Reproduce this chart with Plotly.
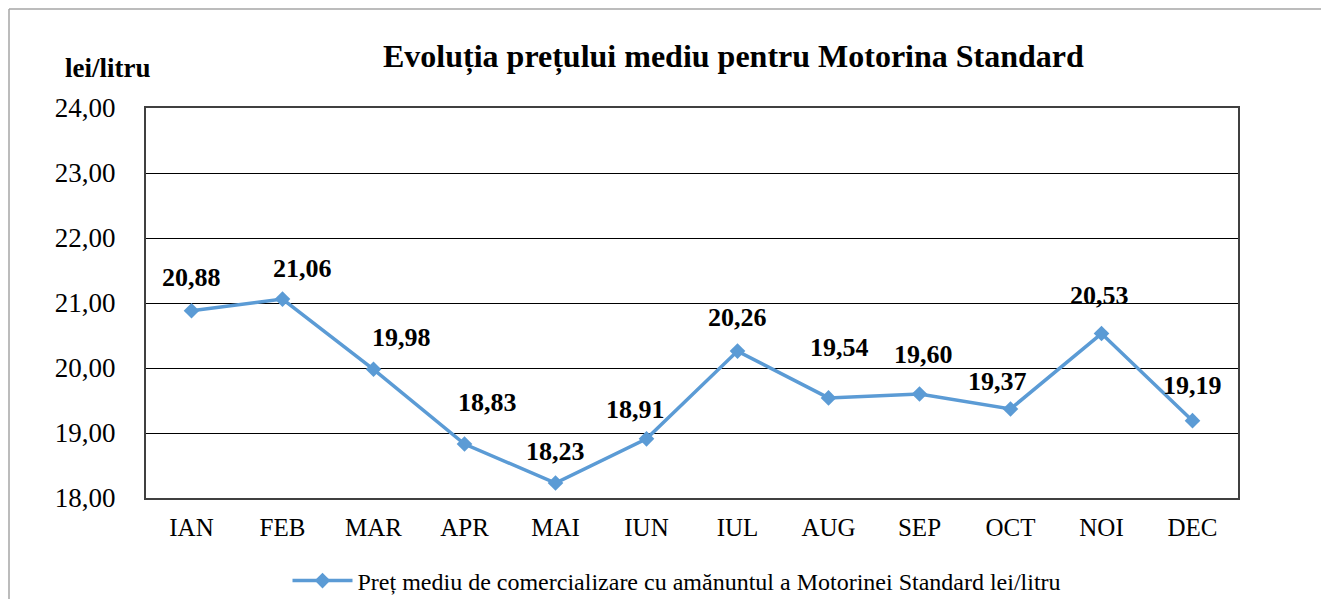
import plotly.graph_objects as go

months = ["IAN", "FEB", "MAR", "APR", "MAI", "IUN", "IUL", "AUG", "SEP", "OCT", "NOI", "DEC"]
prices = [20.88, 21.06, 19.98, 18.83, 18.23, 18.91, 20.26, 19.54, 19.60, 19.37, 20.53, 19.19]
series_name = "Preț mediu de comercializare cu amănuntul a Motorinei Standard lei/litru"
title_text = "Evoluția prețului mediu pentru Motorina Standard"
unit_text = "lei/litru"

FONT = "Liberation Serif"
LINE_COLOR = "#5B9BD5"

# label offsets in px (style only)
label_dx = [0, 20, 28, 23, 0, -11, 0, 11, 4, -13, -2, 0]
label_dy = [33, 31, 32, 42, 32, 29, 34, 50, 40, 27, 38, 35]

OFF = 8  # page body margin
W, H = 1329 - 2 * OFF, 607 - 2 * OFF
# plot area in screen coords
SL, SR, ST, SB = 146, 1238, 108, 498
L, R, T, B = SL - OFF, SR - OFF, ST - OFF, SB - OFF
pw, ph = R - L, B - T


def px(xs):
    return (xs - SL) / pw


def py(ys):
    return (SB - ys) / ph


fig = go.Figure()
fig.add_trace(go.Scatter(
    x=months, y=prices, mode="lines+markers", name=series_name,
    line=dict(color=LINE_COLOR, width=3.5),
    marker=dict(symbol="diamond", size=12, color=LINE_COLOR),
))

for i, (m, p) in enumerate(zip(months, prices)):
    fig.add_annotation(
        x=m, y=p, text="<b>" + f"{p:.2f}".replace(".", ",") + "</b>",
        showarrow=False, xshift=label_dx[i], yshift=label_dy[i],
        xanchor="center", yanchor="middle",
        font=dict(family=FONT, size=26, color="black"),
    )

fig.add_annotation(x=px(733), y=py(56), xref="paper", yref="paper",
                   xanchor="center", yanchor="middle",
                   text="<b>" + title_text + "</b>", showarrow=False,
                   font=dict(family=FONT, size=32, color="black"))
fig.add_annotation(x=px(107), y=py(68), xref="paper", yref="paper",
                   xanchor="center", yanchor="middle",
                   text="<b>" + unit_text + "</b>", showarrow=False,
                   font=dict(family=FONT, size=27, color="black"))

# outer chart border
fig.add_shape(type="line", xref="paper", yref="paper",
              x0=px(9), y0=py(9), x1=px(1400), y1=py(9),
              line=dict(color="#A6A6A6", width=1.5))
fig.add_shape(type="line", xref="paper", yref="paper",
              x0=px(9), y0=py(9), x1=px(9), y1=py(700),
              line=dict(color="#A6A6A6", width=1.5))

fig.update_layout(
    width=W, height=H,
    margin=dict(l=L, r=W - R, t=T, b=H - B, autoexpand=False),
    paper_bgcolor="white", plot_bgcolor="white",
    separators=",.",
    font=dict(family=FONT, color="black"),
    showlegend=True,
    legend=dict(orientation="h", x=px(677), y=py(581),
                xanchor="center", yanchor="middle",
                itemwidth=60, borderwidth=0,
                font=dict(family=FONT, size=24, color="black")),
    xaxis=dict(range=[-0.5, 11.5], showgrid=False, ticks="", zeroline=False,
               showline=True, linecolor="#404040", linewidth=2, mirror=True,
               ticklabelstandoff=6,
               tickfont=dict(family=FONT, size=25, color="black")),
    yaxis=dict(range=[18, 24], dtick=1, tickformat=".2f", showgrid=True,
               gridcolor="black", gridwidth=1, zeroline=False,
               showline=True, linecolor="#404040", linewidth=2, mirror=True,
               ticks="", ticklabelstandoff=23,
               tickfont=dict(family=FONT, size=27, color="black")),
)

fig.write_html("out.html")
